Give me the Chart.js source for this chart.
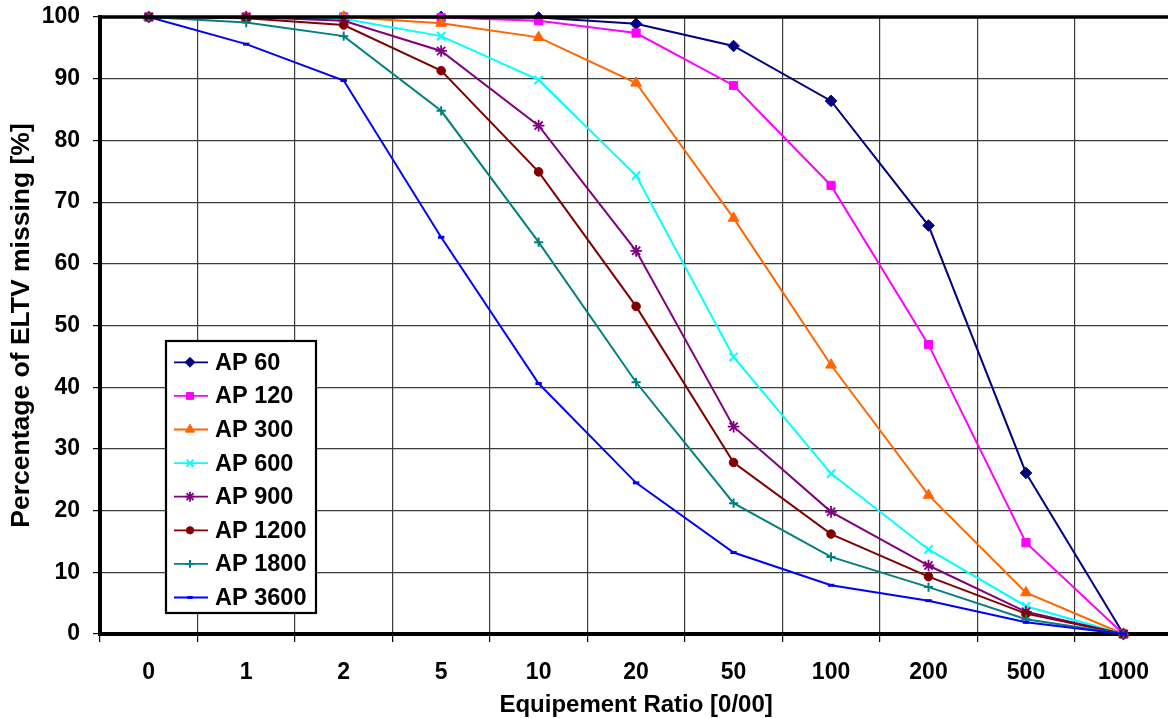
<!DOCTYPE html>
<html>
<head>
<meta charset="utf-8">
<title>Percentage of ELTV missing</title>
<script src="https://cdn.jsdelivr.net/npm/chart.js@4.4.1/dist/chart.umd.min.js"></script>
<style>
  html, body { margin: 0; padding: 0; background: #fff; overflow: hidden; }
  #wrap { position: relative; width: 1180px; height: 718px; }
</style>
</head>
<body>
<div id="wrap"><canvas id="c"></canvas></div>
<script>
// Equipment ratio categories (per mille)
const ratios = ['0', '1', '2', '5', '10', '20', '50', '100', '200', '500', '1000'];

// Percentage of ELTV missing for each AP series
const ap60   = [100, 100, 100, 100, 99.9, 98.9, 95.3, 86.4, 66.2, 26.1, 0];
const ap120  = [100, 100, 100, 99.9, 99.4, 97.4, 88.9, 72.7, 46.9, 14.8, 0];
const ap300  = [100, 100, 100, 99.0, 96.7, 89.3, 67.4, 43.6, 22.5, 6.7, 0];
const ap600  = [100, 100, 99.7, 96.9, 89.8, 74.3, 44.9, 26.0, 13.7, 4.5, 0];
const ap900  = [100, 100, 99.4, 94.5, 82.4, 62.1, 33.6, 19.8, 11.1, 3.6, 0];
const ap1200 = [100, 99.8, 98.7, 91.3, 74.9, 53.1, 27.8, 16.2, 9.3, 3.3, 0];
const ap1800 = [100, 99.1, 96.9, 84.8, 63.5, 40.8, 21.2, 12.5, 7.6, 2.4, 0];
const ap3600 = [100, 95.6, 89.7, 64.3, 40.6, 24.5, 13.2, 7.9, 5.4, 1.9, 0];

const seriesNames = ['AP 60', 'AP 120', 'AP 300', 'AP 600', 'AP 900', 'AP 1200', 'AP 1800', 'AP 3600'];
const seriesValues = [ap60, ap120, ap300, ap600, ap900, ap1200, ap1800, ap3600];

// Y axis range and step
const yMin = 0, yMax = 100, yStep = 10;

const FONT = '"Liberation Sans", Arial, Helvetica, sans-serif';

const styles = [
  { color: '#000080', pointStyle: 'rectRot',  radius: 5.8, pw: 1 },
  { color: '#FF00FF', pointStyle: 'rect',     radius: 5.8, pw: 1 },
  { color: '#FF6600', pointStyle: 'triangle', radius: 6.2, pw: 1 },
  { color: '#00FFFF', pointStyle: 'crossRot', radius: 5.8, pw: 2 },
  { color: '#800080', pointStyle: 'star',     radius: 5.8, pw: 1.8 },
  { color: '#800000', pointStyle: 'circle',   radius: 4.3, pw: 1 },
  { color: '#008080', pointStyle: 'cross',    radius: 4.6, pw: 2 },
  { color: '#0000FF', pointStyle: 'line',     radius: 3.2, pw: 3 }
];

const datasets = seriesNames.map((name, i) => ({
  label: name,
  data: seriesValues[i],
  borderColor: styles[i].color,
  backgroundColor: styles[i].color,
  borderWidth: 2,
  pointStyle: styles[i].pointStyle,
  pointRadius: styles[i].radius,
  pointHoverRadius: styles[i].radius,
  pointBorderWidth: styles[i].pw,
  pointBackgroundColor: styles[i].color,
  pointBorderColor: styles[i].color,
  tension: 0,
  clip: false,
  order: seriesNames.length - i
}));

// Thick frame line along the top of the plot area
const topFrame = {
  id: 'topFrame',
  afterDraw(chart) {
    const { ctx, chartArea: a } = chart;
    ctx.save();
    ctx.strokeStyle = '#000';
    ctx.lineWidth = 3.5;
    ctx.beginPath();
    ctx.moveTo(a.left - 2, a.top);
    ctx.lineTo(a.right, a.top);
    ctx.stroke();
    ctx.restore();
  }
};

// Boxed legend placed inside the plot area, lower left
const boxLegend = {
  id: 'boxLegend',
  afterDraw(chart) {
    const { ctx, chartArea: a } = chart;
    const x0 = a.left + 66, y0 = 341, w = 150, h = 272;
    const rowH = 33.6, firstY = 362.3;
    ctx.save();
    ctx.fillStyle = '#fff';
    ctx.fillRect(x0, y0, w, h);
    ctx.strokeStyle = '#000';
    ctx.lineWidth = 2.2;
    ctx.strokeRect(x0, y0, w, h);
    ctx.font = 'bold 23.5px ' + FONT;
    ctx.textBaseline = 'middle';
    ctx.textAlign = 'left';
    chart.data.datasets.forEach((ds, i) => {
      const y = firstY + i * rowH;
      ctx.strokeStyle = ds.borderColor;
      ctx.fillStyle = ds.borderColor;
      ctx.lineWidth = 1.8;
      ctx.beginPath();
      ctx.moveTo(x0 + 8, y);
      ctx.lineTo(x0 + 42, y);
      ctx.stroke();
      ctx.lineWidth = ds.pointBorderWidth;
      Chart.helpers.drawPoint(ctx, {
        pointStyle: ds.pointStyle,
        radius: ds.pointRadius * 0.85,
        rotation: 0,
        borderWidth: ds.pointBorderWidth
      }, x0 + 24, y);
      ctx.fillStyle = '#000';
      ctx.fillText(ds.label, x0 + 49, y + 1);
    });
    ctx.restore();
  }
};

new Chart(document.getElementById('c'), {
  type: 'line',
  data: { labels: ratios, datasets },
  plugins: [topFrame, boxLegend],
  options: {
    responsive: true,
    maintainAspectRatio: false,
    animation: false,
    events: [],
    layout: { padding: { top: 17, left: 0, right: 0, bottom: 0 } },
    plugins: { legend: { display: false }, tooltip: { enabled: false } },
    scales: {
      x: {
        type: 'category',
        offset: true,
        grid: {
          display: true,
          offset: true,
          color: '#3c3c3c',
          lineWidth: 1.2,
          drawTicks: true,
          tickLength: 8,
          tickColor: '#000'
        },
        border: { display: true, color: '#000', width: 4 },
        ticks: {
          color: '#000',
          font: { family: FONT, size: 23, weight: 'bold' },
          padding: 17,
          maxRotation: 0,
          autoSkip: false
        },
        title: {
          display: true,
          text: 'Equipement Ratio [0/00]',
          color: '#000',
          font: { family: FONT, size: 24, weight: 'bold' },
          padding: { top: 2, bottom: -2 }
        },
        afterFit(scale) {
          scale.height = 84;
          scale.paddingLeft = 0;
          scale.paddingRight = 0;
        }
      },
      y: {
        min: yMin,
        max: yMax,
        grid: {
          color: '#3c3c3c',
          lineWidth: 1.2,
          drawTicks: true,
          tickLength: 7,
          tickColor: '#000'
        },
        border: { display: true, color: '#000', width: 4 },
        ticks: {
          stepSize: yStep,
          color: '#000',
          font: { family: FONT, size: 23, weight: 'bold' },
          padding: 13
        },
        title: {
          display: true,
          text: 'Percentage of ELTV missing [%]',
          color: '#000',
          font: { family: FONT, size: 26.5, weight: 'bold' },
          padding: { top: 6, bottom: 2 }
        },
        afterFit(scale) {
          scale.width = 100;
          scale.paddingTop = 0;
          scale.paddingBottom = 0;
        }
      }
    }
  }
});
</script>
</body>
</html>
